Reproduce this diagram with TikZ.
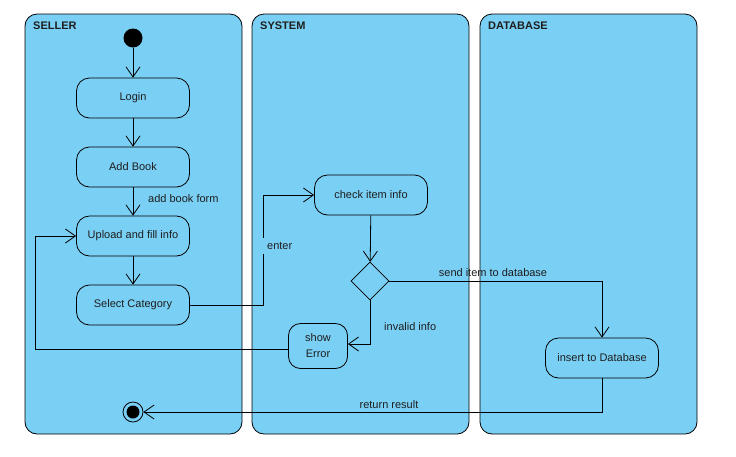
\documentclass[tikz,border=0pt]{standalone}
\usepackage{fontspec}
\setmainfont{Liberation Sans}
\usetikzlibrary{arrows.meta,shapes.geometric}
\definecolor{lane}{RGB}{122,207,244}
\definecolor{txt}{RGB}{30,30,30}
\begin{document}
\begin{tikzpicture}[x=1pt,y=-1pt,
 lanebox/.style={draw=black, fill=lane, rounded corners=12pt, line width=0.8pt},
 act/.style={draw=black, fill=lane, rounded corners=13pt, minimum width=113pt, minimum height=40pt, font=\fontsize{11}{13}\selectfont, text=txt, line width=0.8pt, inner sep=0pt},
 flow/.style={-{Straight Barb[length=10pt,width=14pt]}, line width=0.8pt},
 lbl/.style={font=\fontsize{11}{13}\selectfont, text=txt, inner sep=1pt},
 lanetitle/.style={font=\bfseries\fontsize{11}{13}\selectfont, anchor=west, text=txt, inner sep=0pt}]
\useasboundingbox[fill=white] (0,0) rectangle (736,456);
% lanes
\draw[lanebox] (25,14) rectangle (242,434);
\draw[lanebox] (252,14) rectangle (469,434);
\draw[lanebox] (480,14) rectangle (697,434);
\node[lanetitle] (tseller) at (33,26) {SELLER};
\node[lanetitle] (tsystem) at (260,26) {SYSTEM};
\node[lanetitle] (tdb) at (488,26) {DATABASE};
% nodes
\node[circle, fill=black, minimum size=19pt, inner sep=0pt] (start) at (133,38) {};
\node[act] (login) at (133,98) {Login};
\node[act] (add) at (133,167) {Add Book};
\node[act] (upload) at (133,236) {Upload and fill info};
\node[act] (select) at (133,305) {Select Category};
\node[circle, draw=black, fill=lane, line width=0.8pt, minimum size=20pt, inner sep=0pt] (end) at (133,412) {};
\fill[black] (end.center) circle (6.5pt);
\node[act] (check) at (371,195) {check item info};
\node[diamond, draw=black, fill=lane, line width=0.8pt, minimum width=38pt, minimum height=38pt, inner sep=0pt] (dec) at (370,281) {};
\node[act, minimum width=59pt, minimum height=45pt, rounded corners=12pt, align=center] (err) at (318,346) {show\\[3pt]Error};
\node[act] (insert) at (602,358) {insert to Database};
% connectors
\draw[flow] (start) -- (login);
\draw[flow] (login) -- (add);
\draw[flow] (add) -- (upload);
\node[lbl, anchor=west] (labform) at (147,199) {add book form};
\draw[flow] (upload) -- (select);
\draw[flow] (select.east) -- ++(73,0) |- (check.west);
\node[lbl, fill=lane, anchor=west, inner xsep=5pt, inner ysep=4pt] (labenter) at (262,246) {enter};
\draw[flow] (check) -- (dec);
\draw[flow] (dec.east) -| (insert.north);
\node[lbl] (labsend) at (493,273) {send item to database};
\draw[flow] (dec.south) |- ([yshift=2pt]err.east);
\node[lbl, anchor=west] (labinv) at (383,327) {invalid info};
\draw[flow] ([yshift=-3pt]err.west) -- ++(-253,0) |- (upload.west);
\draw[flow] (insert.south) |- (end.east);
\node[lbl] (labret) at (389,405) {return result};
\end{tikzpicture}
\end{document}
